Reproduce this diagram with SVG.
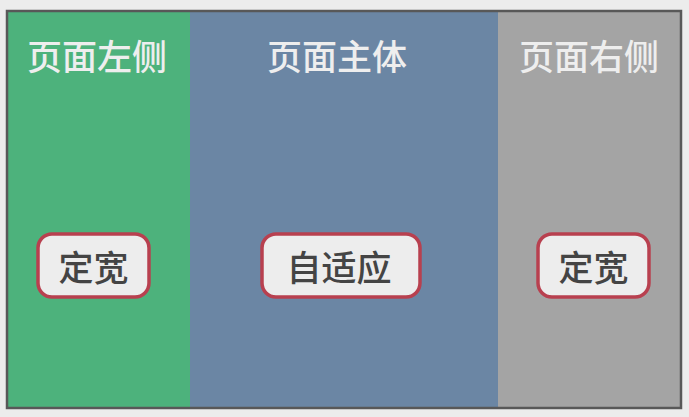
<svg xmlns="http://www.w3.org/2000/svg" width="689" height="417" viewBox="0 0 689 417">
<style>
.title{font-family:"Noto Sans CJK SC","Noto Sans",sans-serif;font-size:35px;font-weight:500;fill:#eeeeee;text-anchor:middle;dominant-baseline:central}
.lbl{font-family:"Noto Sans CJK SC","Noto Sans",sans-serif;font-size:35px;font-weight:500;fill:#444444;text-anchor:middle;dominant-baseline:central}
.box{fill:#ededed;stroke:#b8404f;stroke-width:3.5}
</style>
<rect x="0" y="0" width="689" height="417" fill="#ececec"/>
<g id="left">
<rect x="8" y="12" width="182" height="395" fill="#4db27c"/>
<text class="title" x="97" y="54">页面左侧</text>
</g>
<g id="main">
<rect x="190" y="12" width="308" height="395" fill="#6b86a4"/>
<text class="title" x="337" y="54">页面主体</text>
</g>
<g id="right">
<rect x="498" y="12" width="182" height="395" fill="#a4a4a4"/>
<text class="title" x="589" y="54">页面右侧</text>
</g>
<g id="frame">
<rect x="7" y="11" width="674" height="397" fill="none" stroke="#585858" stroke-width="2.5"/>
</g>
<g id="box-left">
<rect class="box" x="38" y="234" width="111" height="63" rx="14"/>
<text class="lbl" x="93.5" y="265">定宽</text>
</g>
<g id="box-main">
<rect class="box" x="262" y="234" width="158" height="63" rx="14"/>
<text class="lbl" x="339" y="265">自适应</text>
</g>
<g id="box-right">
<rect class="box" x="538" y="234" width="111" height="63" rx="14"/>
<text class="lbl" x="593.5" y="265">定宽</text>
</g>
<g id="connectors"/>
</svg>
